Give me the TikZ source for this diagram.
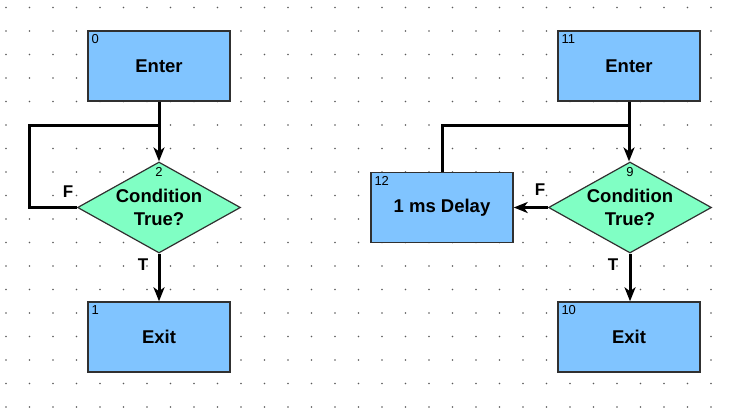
\documentclass[tikz,border=0pt]{standalone}
\usepackage{fontspec}
\setmainfont{Liberation Sans}
\usepackage{tikz}
\usetikzlibrary{arrows.meta,shapes.geometric,positioning}

\definecolor{boxblue}{HTML}{80C4FF}
\definecolor{condgreen}{HTML}{80FFC4}
\definecolor{rim}{HTML}{303030}

\tikzset{
    blockbox/.style={rectangle, draw=rim, line width=1.4pt, fill=boxblue,
        minimum width=142pt, minimum height=70pt, inner sep=0pt,
        font=\fontsize{18.5}{23}\selectfont\bfseries},
    condbox/.style={diamond, draw=rim, line width=1.2pt, fill=condgreen,
        minimum width=163pt, minimum height=91pt, inner sep=0pt, aspect=1.8,
        align=center, font=\fontsize{18.5}{23}\selectfont\bfseries},
    num/.style={font=\fontsize{13}{13}\selectfont, inner sep=4pt},
    flow/.style={line width=3pt, -{Stealth[length=14pt,width=11pt,inset=4pt]}},
    loopline/.style={line width=3pt},
    tag/.style={font=\fontsize{17}{17}\selectfont\bfseries, inner sep=0pt}
}

\begin{document}
\begin{tikzpicture}[x=1pt,y=-1pt]
            \useasboundingbox (0,0) rectangle (730,412);

            % grid
            \foreach \i in {0,...,30}
                \foreach \j in {0,...,17}
                    \fill[rim!80] (6+23.5*\i, 7.5+23.5*\j) circle (0.9pt);

            % left chart
            \node[blockbox, label={[num,anchor=north west]north west:0}] (enterA) at (159,66) {Enter};
            \node[condbox, label={[num,anchor=north,yshift=-2pt]north:2}] (condA) at (159,207.5) {Condition\\True?};
            \node[blockbox, label={[num,anchor=north west]north west:1}] (exitA) at (159,337) {Exit};
            \coordinate (loopA) at (29,125);

            \draw[flow] (enterA) -- (condA);
            \draw[loopline] (condA.west) -| (loopA) -- (enterA.south |- loopA);
            \draw[flow] (condA) -- (exitA);
            \node[tag] (fA) at (68,192) {F};
            \node[tag] (tA) at (143,265) {T};

            % right chart
            \node[blockbox, label={[num,anchor=north west]north west:11}] (enterB) at (629,66) {Enter};
            \node[condbox, label={[num,anchor=north,yshift=-2pt]north:9}] (condB) at (630,207.5) {Condition\\True?};
            \node[blockbox, label={[num,anchor=north west]north west:10}] (exitB) at (629,337) {Exit};
            \node[blockbox, label={[num,anchor=north west]north west:12}] (delayB) at (442,207.5) {1 ms Delay};
            \coordinate (loopB) at (442,125);

            \draw[flow] (enterB.south) -- (enterB.south |- condB.north);
            \draw[flow] (condB) -- (delayB);
            \draw[loopline] (delayB.north) -- (loopB) -- (enterB.south |- loopB);
            \draw[flow] (condB.south) -- (condB.south |- exitB.north);
            \node[tag] (fB) at (540,190) {F};
            \node[tag] (tB) at (613,265) {T};
        \end{tikzpicture}
\end{document}
